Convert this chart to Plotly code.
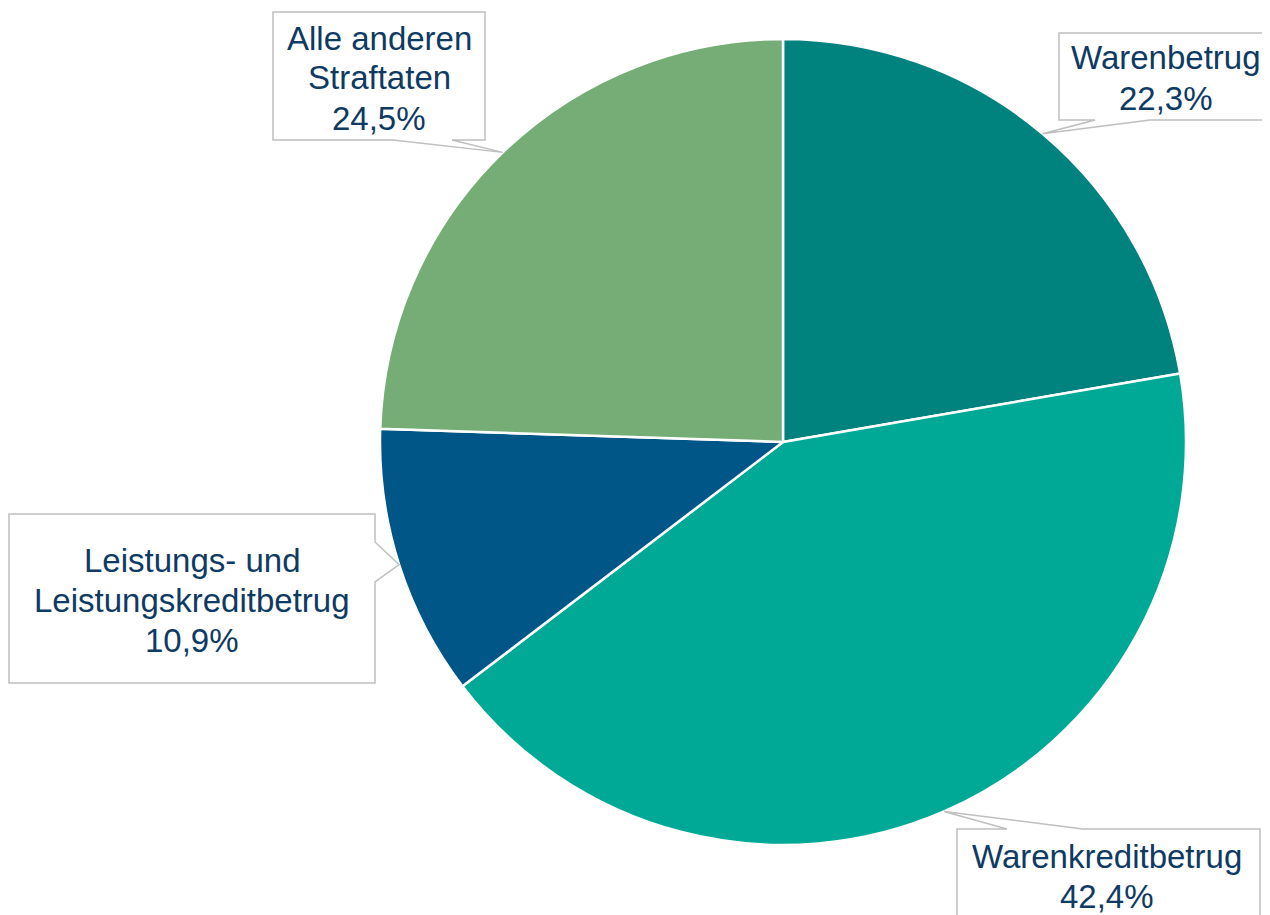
import plotly.graph_objects as go
import math

# ---- data ----
labels = ["Warenbetrug", "Warenkreditbetrug", "Leistungs- und<br>Leistungskreditbetrug", "Alle anderen<br>Straftaten"]
values = [22.3, 42.4, 10.9, 24.5]
value_text = ["22,3%", "42,4%", "10,9%", "24,5%"]
colors = ["#00827F", "#00A996", "#005686", "#76AD76"]

W, H = 1270, 915
OFF = 8  # page body margin compensation
CX, CY, R = 783, 442, 403
TEXT_COLOR = "#0E3A63"
BORDER = "#BFBFBF"
FONT_SIZE = 33
LINE_STEP = 40


def px(x):
    return (x - OFF) / W


def py(y):
    return 1 - (y - OFF) / H


fig = go.Figure(go.Pie(
    labels=[l.replace("<br>", " ") for l in labels],
    values=values,
    marker=dict(colors=colors, line=dict(color="white", width=2.5)),
    sort=False,
    direction="clockwise",
    rotation=0,
    textinfo="none",
    showlegend=False,
    domain=dict(x=[px(CX - R), px(CX + R)], y=[py(CY + R), py(CY - R)]),
))

# callout layout: box (x0, y0, x1, y1), pointer side, pointer base, text centre
callouts = [
    dict(box=(1059, 33, 1290, 120), side="bottom", base=(1095, 1150), tc=(1166, 78)),
    dict(box=(957, 829, 1260, 960), side="top", base=(1007, 1083), tc=(1107, 876)),
    dict(box=(9, 514, 375, 683), side="right", base=(542, 582), tc=(192, 600)),
    dict(box=(273, 12, 485, 140), side="bottom", base=(393, 452), tc=(379, 78)),
]

total = sum(values)
cum = 0.0
shapes = []
annotations = []
for i, v in enumerate(values):
    mid = (cum + v / 2) / total
    cum += v
    ang = 2 * math.pi * mid
    tx = CX + R * math.sin(ang)
    ty = CY - R * math.cos(ang)
    c = callouts[i]
    x0, y0, x1, y1 = c["box"]
    b1, b2 = c["base"]
    if c["side"] == "bottom":
        pts = [(x0, y0), (x1, y0), (x1, y1), (b2, y1), (tx, ty), (b1, y1), (x0, y1)]
    elif c["side"] == "top":
        pts = [(x0, y0), (b1, y0), (tx, ty), (b2, y0), (x1, y0), (x1, y1), (x0, y1)]
    else:
        pts = [(x0, y0), (x1, y0), (x1, b1), (tx, ty), (x1, b2), (x1, y1), (x0, y1)]
    path = "M " + " L ".join(f"{px(x):.5f},{py(y):.5f}" for x, y in pts) + " Z"
    shapes.append(dict(type="path", path=path, xref="paper", yref="paper",
                       fillcolor="white", line=dict(color=BORDER, width=1.5), layer="above"))
    lines = (labels[i] + "<br>" + value_text[i]).split("<br>")
    n = len(lines)
    for k, line in enumerate(lines):
        yy = c["tc"][1] + (k - (n - 1) / 2) * LINE_STEP
        annotations.append(dict(
            x=px(c["tc"][0]), y=py(yy), xref="paper", yref="paper",
            text=line, showarrow=False,
            xanchor="center", yanchor="middle", align="center",
            font=dict(family="Liberation Sans, Arial, sans-serif", size=FONT_SIZE, color=TEXT_COLOR),
        ))

fig.update_layout(
    width=W, height=H,
    margin=dict(l=0, r=0, t=0, b=0),
    paper_bgcolor="white", plot_bgcolor="white",
    shapes=shapes, annotations=annotations,
)

fig.write_html("out.html")
